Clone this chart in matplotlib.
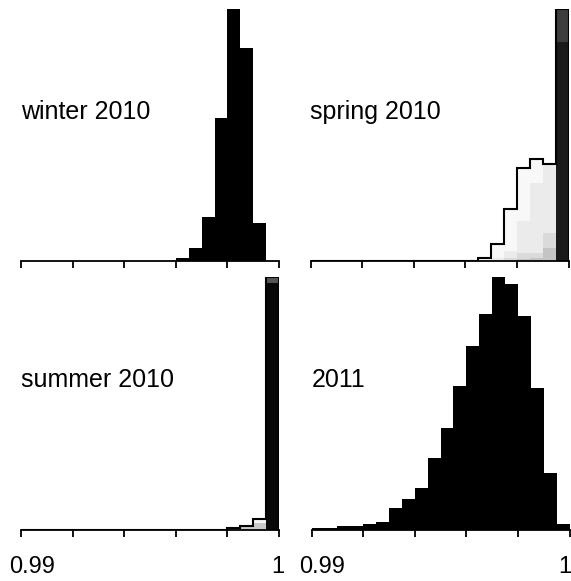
#Histograms of the four seasons on a shared 0.99-1 scale

import numpy as np
import matplotlib.pyplot as plt
from matplotlib.transforms import ScaledTranslation

plt.rcParams['font.family'] = ['Liberation Sans', 'DejaVu Sans']

#bins shared by all panels
bin_lo, bin_hi, n_bins = 0.99, 1.0, 20
tick_vals = [0.99, 0.992, 0.994, 0.996, 0.998, 1.0]
tick_text = ['0.99', '', '', '', '', '1']
panel_names = ['winter 2010', 'spring 2010', 'summer 2010', '2011']

#relative bin heights (tallest bin = 1)
winter_2010 = [0, 0, 0, 0, 0, 0, 0, 0, 0, 0,
               0, 0, 0.013, 0.05, 0.173, 0.568, 1.0, 0.847, 0.15, 0]

#spring is drawn as stacked shades, outer envelope first
spring_2010_env = [0, 0, 0, 0, 0, 0, 0, 0, 0, 0,
                   0, 0, 0, 0.012, 0.067, 0.206, 0.369, 0.405, 0.385, 1.0]
spring_2010_mid = [0, 0, 0, 0, 0, 0, 0, 0, 0, 0,
                   0, 0, 0, 0.004, 0.012, 0.04, 0.16, 0.31, 0.38, 0]
spring_2010_low = [0, 0, 0, 0, 0, 0, 0, 0, 0, 0,
                   0, 0, 0, 0, 0.004, 0.012, 0.03, 0.03, 0.11, 0]
spring_2010_base = [0, 0, 0, 0, 0, 0, 0, 0, 0, 0,
                    0, 0, 0, 0, 0, 0, 0.008, 0.01, 0.05, 0]
spring_2010_peak = [0, 0, 0, 0, 0, 0, 0, 0, 0, 0,
                    0, 0, 0, 0, 0, 0, 0, 0, 0, 1.0]
spring_2010_core = [0, 0, 0, 0, 0, 0, 0, 0, 0, 0,
                    0, 0, 0, 0, 0, 0, 0, 0, 0, 0.87]

summer_2010_env = [0, 0, 0, 0, 0, 0, 0, 0, 0, 0,
                   0, 0, 0, 0, 0, 0, 0.007, 0.016, 0.045, 1.0]
summer_2010_low = [0, 0, 0, 0, 0, 0, 0, 0, 0, 0,
                   0, 0, 0, 0, 0, 0, 0.004, 0.012, 0.029, 0]
summer_2010_peak = [0, 0, 0, 0, 0, 0, 0, 0, 0, 0,
                    0, 0, 0, 0, 0, 0, 0, 0, 0, 1.0]
summer_2010_core = [0, 0, 0, 0, 0, 0, 0, 0, 0, 0,
                    0, 0, 0, 0, 0, 0, 0, 0, 0, 0.976]

year_2011 = [0.0066, 0.0066, 0.0145, 0.0145, 0.021, 0.030, 0.086, 0.119, 0.166, 0.284,
             0.401, 0.567, 0.726, 0.855, 1.0, 0.974, 0.844, 0.562, 0.222, 0.021]

edges = np.linspace(bin_lo, bin_hi, n_bins + 1)

#sets up a panel with only the bottom axis
def setup_ax(ax, show_labels, last_shift):
    for s in ['left', 'right', 'top']:
        ax.spines[s].set_visible(False)
    ax.spines['bottom'].set_linewidth(1.3)
    ax.spines['bottom'].set_bounds(bin_lo, bin_hi)
    ax.set_xlim(bin_lo, bin_hi)
    ax.set_ylim(0, 1.0)
    ax.set_yticks([])
    ax.set_xticks(tick_vals)
    ax.tick_params(axis='x', length=4.8, width=1.3, direction='out', labelsize=17, pad=14)
    if show_labels:
        ax.set_xticklabels(tick_text)
        labs = ax.get_xticklabels()
        #nudge the end labels so they stay inside the figure
        labs[0].set_transform(labs[0].get_transform() + ScaledTranslation(0.11, 0, ax.figure.dpi_scale_trans))
        labs[-1].set_transform(labs[-1].get_transform() + ScaledTranslation(last_shift, 0, ax.figure.dpi_scale_trans))
    else:
        ax.set_xticklabels([])
    ax.patch.set_visible(False)

#draws shaded layers then the envelope outline
def layered(ax, layers, shades, env):
    for vals, c in zip(layers, shades):
        ax.stairs(vals, edges, fill=True, color=c, lw=0)
    ax.stairs(env, edges, color='black', lw=1.5, baseline=0)

fig = plt.figure(figsize=(5.71, 5.81), dpi=100)
W, H = 571.0, 581.0
ax_tl = fig.add_axes([21/W, 1-261/H, 258/W, 252/H])
ax_tr = fig.add_axes([310.5/W, 1-261/H, 258/W, 252/H])
ax_bl = fig.add_axes([21/W, 1-530/H, 258/W, 253/H])
ax_br = fig.add_axes([311.5/W, 1-529.5/H, 258/W, 252.5/H])

ax_tl.stairs(winter_2010, edges, fill=True, color='black', lw=0)

layered(ax_tr,
        [spring_2010_env, spring_2010_mid, spring_2010_low, spring_2010_base,
         spring_2010_peak, spring_2010_core],
        ['#f8f8f8', '#ebebeb', '#dadada', '#c4c4c4', '#3d3d3d', '#1a1a1a'],
        spring_2010_env)

layered(ax_bl,
        [summer_2010_env, summer_2010_low, summer_2010_peak, summer_2010_core],
        ['#f4f4f4', '#c8c8c8', '#555555', '#080808'],
        summer_2010_env)

ax_br.stairs(year_2011, edges, fill=True, color='black', lw=0)

for ax, name, lab, sh in zip([ax_tl, ax_tr, ax_bl, ax_br], panel_names,
                             [False, False, True, True], [0, 0, -0.01, -0.05]):
    setup_ax(ax, lab, sh)
    ax.text(0.0, 0.565, name, transform=ax.transAxes, fontsize=18, va='baseline', ha='left')

fig.savefig('out.png', dpi=100)
